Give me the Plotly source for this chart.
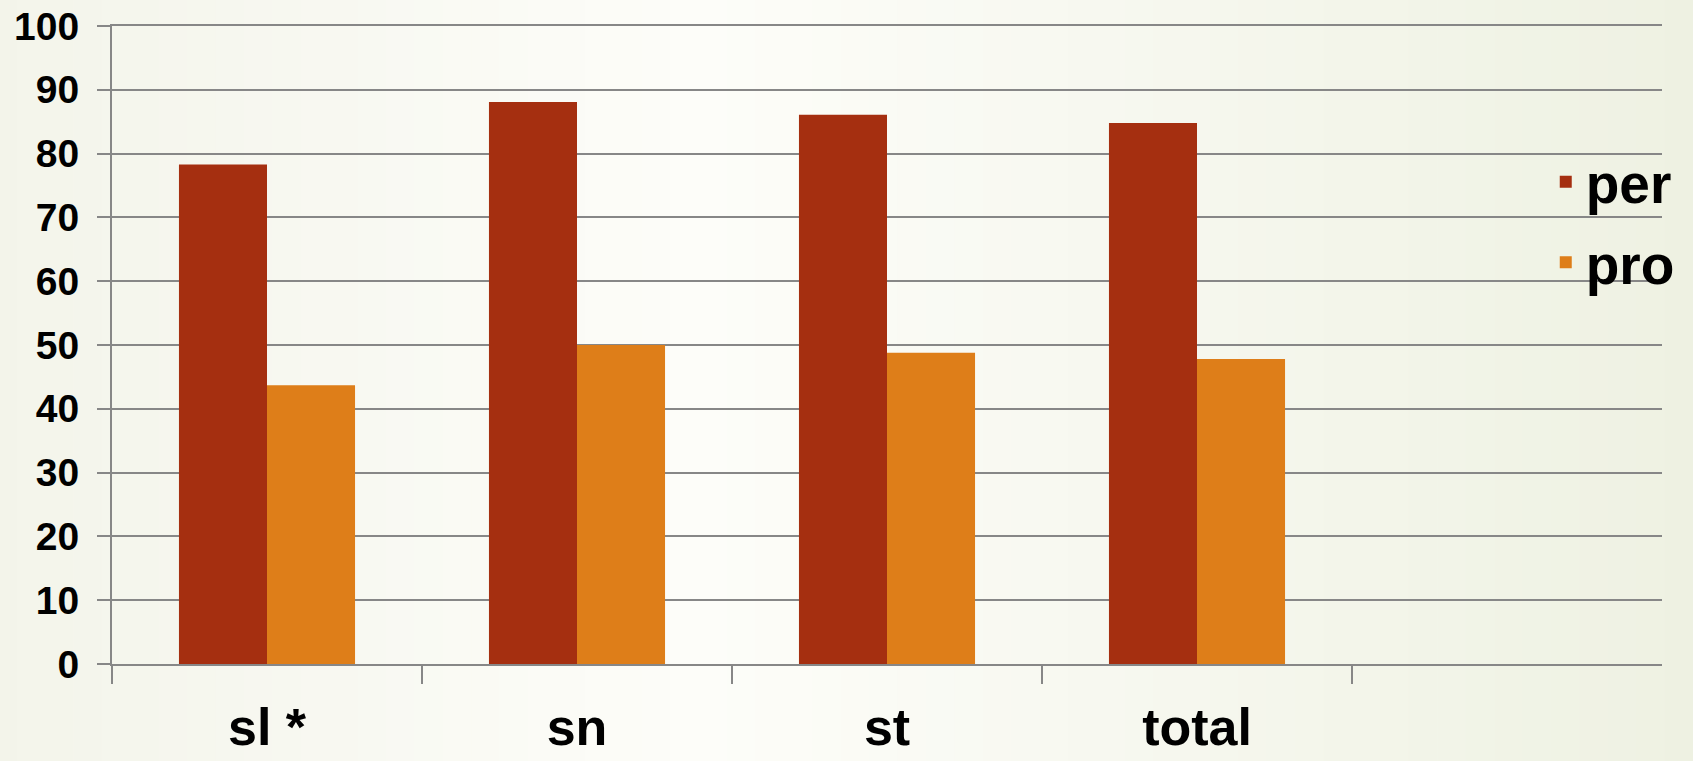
import plotly.graph_objects as go

categories = ["sl *", "sn", "st", "total"]
per_values = [78.3, 88.1, 86.1, 84.8]
pro_values = [43.7, 50.0, 48.8, 47.8]
series_names = ["per", "pro"]
y_tick_values = [0, 10, 20, 30, 40, 50, 60, 70, 80, 90, 100]

PER_COLOR = "#A52F10"
PRO_COLOR = "#DE7E19"
GRID = "#878787"
FONT = "Liberation Sans"

fig = go.Figure()
fig.add_trace(go.Bar(x=categories, y=per_values, name=series_names[0],
                     legendgroup="g1",
                     marker=dict(color=PER_COLOR, line=dict(width=0))))
fig.add_trace(go.Bar(x=categories, y=pro_values, name=series_names[1],
                     legendgroup="g2",
                     marker=dict(color=PRO_COLOR, line=dict(width=0))))

# soft horizontal background gradient (decoration only)
def lerp(c1, c2, t):
    return tuple(round(a + (b - a) * t) for a, b in zip(c1, c2))

left_c = (243, 244, 234)
mid_c = (253, 253, 249)
right_c = (238, 241, 226)
shapes = []
n = 60
for i in range(n):
    t = (i + 0.5) / n
    if t < 0.42:
        c = lerp(left_c, mid_c, t / 0.42)
    else:
        c = lerp(mid_c, right_c, (t - 0.42) / 0.58)
    shapes.append(dict(type="rect", xref="paper", yref="paper", layer="below",
                       x0=-0.08 + i * (1.1 / n), x1=-0.08 + (i + 1.02) * (1.1 / n),
                       y0=-0.2, y1=1.1,
                       fillcolor="rgb(%d,%d,%d)" % c, line=dict(width=0)))

fig.update_layout(
    width=1693, height=761,
    margin=dict(l=112, r=31, t=26, b=97, autoexpand=False),
    paper_bgcolor="rgb(247,248,240)",
    plot_bgcolor="rgba(0,0,0,0)",
    barmode="group",
    bargap=0.432,
    bargroupgap=0,
    shapes=shapes,
    showlegend=True,
    legend=dict(x=0.925, y=0.822, xanchor="left", yanchor="top",
                bgcolor="rgba(0,0,0,0)", traceorder="grouped", tracegroupgap=6,
                font=dict(family=FONT, size=55, color="black", weight="bold")),
    xaxis=dict(type="category", range=[-0.5, 4.5], automargin=False,
               showgrid=False, showline=True, linecolor=GRID, linewidth=2,
               mirror=True,
               ticks="outside", tickson="boundaries", ticklen=18, tickwidth=2,
               tickcolor=GRID, ticklabelstandoff=17,
               tickfont=dict(family=FONT, size=52, color="black", weight="bold")),
    yaxis=dict(range=[0, 100], tickvals=y_tick_values, automargin=False,
               showgrid=True, gridcolor=GRID, gridwidth=2,
               showline=True, linecolor=GRID, linewidth=2, zeroline=False,
               ticks="outside", ticklen=13, tickwidth=2, tickcolor=GRID,
               ticklabelstandoff=10,
               tickfont=dict(family=FONT, size=39, color="black", weight="bold")),
)

fig.write_html("out.html")
